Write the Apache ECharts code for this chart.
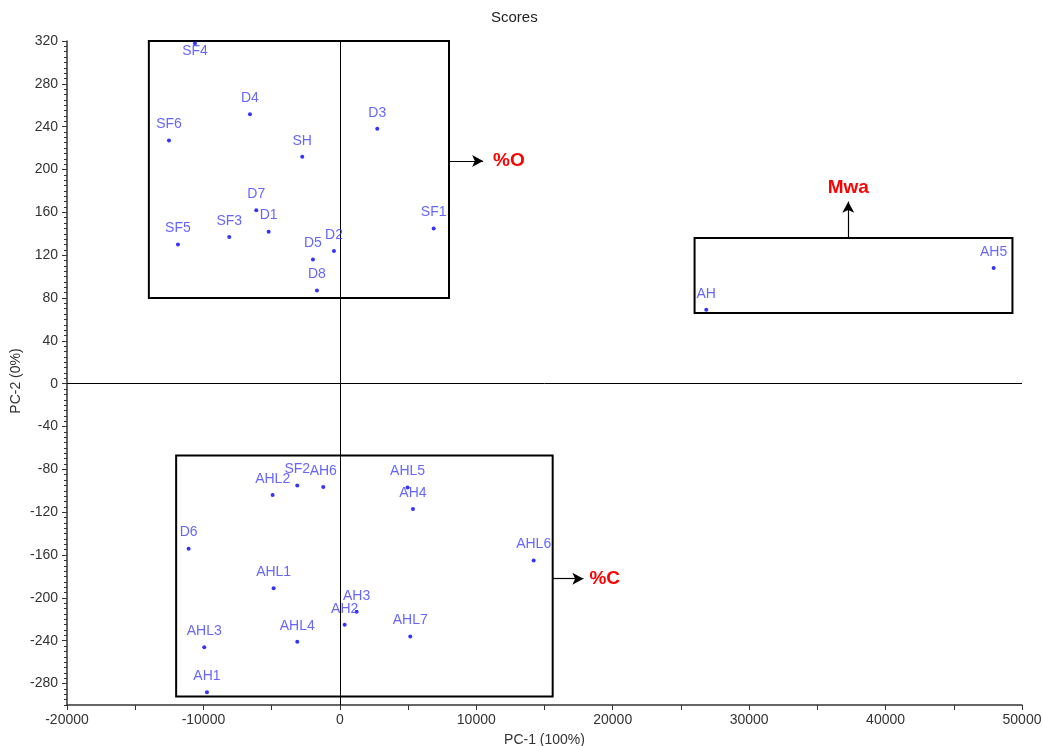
<!DOCTYPE html>
<html>
<head>
<meta charset="utf-8">
<script src="https://cdn.jsdelivr.net/npm/echarts@6/dist/echarts.min.js"></script>
<style>html,body{margin:0;padding:0;background:#fff}#c{width:1043px;height:746px}</style>
</head>
<body>
<div id="c"></div>
<script>
// ---- data ----
const names = ['SF4','D4','SF6','SH','D3','D7','D1','SF3','SF5','D2','D5','D8','SF1',
  'AHL2','SF2','AH6','AHL5','AH4','D6','AHL6','AHL1','AH3','AH2','AHL7','AHL4','AHL3','AH1',
  'AH5','AH'];
const pc1 = [-10620,-6590,-12525,-2756,2741,-6127,-5219,-8107,-11867,-432,-1972,-1679,6875,
  -4926,-3122,-1217,4966,5358,-11083,14205,-4853,1231,352,5160,-3122,-9939,-9741,
  47922,26856];
const pc2 = [318,251.5,227,212,238,162,142,137,130,124,116,87,145,
  -104,-95,-96.5,-97,-117,-154,-165,-191,-213,-225,-236,-241,-246,-288,
  108,69];

const xTicks = [-20000,-10000,0,10000,20000,30000,40000,50000];
const yTicks = [-280,-240,-200,-160,-120,-80,-40,0,40,80,120,160,200,240,280,320];

// annotation boxes [x1, y1, x2, y2] in data units
const boxO = [-14000, 80, 8000, 320];
const boxC = [-12000, -292, 15600, -67];
const boxM = [26000, 66, 49300, 136];
// arrows [x1, y1, x2, y2] and texts
const arrowO = [8000, 208, 10500, 208];
const arrowC = [15600, -182, 17850, -182];
const arrowM = [37265, 136, 37265, 170];
const arrowTexts = ['%O', '%C', 'Mwa'];

// ---- build ----
const yMinor = [];
for (let v = -300; v <= 320; v += 5) yMinor.push(v);

const pts = names.map((n, i) => {
  const item = { name: n, value: [pc1[i], pc2[i]] };
  if (pc2[i] > 305) item.label = { position: 'bottom', distance: -1 };
  return item;
});

const box = b => [{ coord: [b[0], b[1]] }, { coord: [b[2], b[3]] }];
const arr = (a, t, dist) => [
  { coord: [a[0], a[1]] },
  { coord: [a[2], a[3]], label: { formatter: t, distance: dist } }
];

const font = 'Arial, "Liberation Sans", sans-serif';
const axisCol = '#333';

const option = {
  animation: false,
  textStyle: { fontFamily: font },
  title: {
    text: 'Scores', left: 491, top: 10, padding: 0,
    textStyle: { fontSize: 15, fontWeight: 'normal', color: '#222', fontFamily: font }
  },
  grid: { left: 67, right: 21, top: 41, bottom: 41, containLabel: false, outerBoundsMode: 'none' },
  xAxis: {
    type: 'value', min: -20000, max: 50000, interval: 10000,
    name: 'PC-1 (100%)', nameLocation: 'middle', nameGap: 28,
    nameTextStyle: { fontSize: 14, color: '#333' },
    axisLine: { show: true, onZero: false, lineStyle: { color: axisCol, width: 1.5 } },
    axisTick: { show: true, length: 5, lineStyle: { color: axisCol, width: 1 } },
    minorTick: { show: true, splitNumber: 2, length: 5, lineStyle: { color: axisCol, width: 1 } },
    axisLabel: { fontSize: 14, color: '#333', margin: 8, formatter: v => String(v) },
    splitLine: { show: false }
  },
  yAxis: [{
    type: 'value', min: -300, max: 320,
    name: 'PC-2 (0%)', nameLocation: 'middle', nameGap: 44, nameMoveOverlap: false,
    nameTextStyle: { fontSize: 14, color: '#333', padding: [0, 16, 0, 0] },
    axisLine: { show: true, onZero: false, lineStyle: { color: axisCol, width: 1.5 } },
    axisTick: { show: true, length: 5, customValues: yTicks, lineStyle: { color: axisCol, width: 1 } },
    axisLabel: { fontSize: 14, color: '#333', margin: 9, customValues: yTicks, formatter: v => String(v) },
    splitLine: { show: false }
  }, {
    type: 'value', min: -300, max: 320, position: 'left',
    axisLine: { show: false, onZero: false },
    axisTick: { show: true, length: 3, customValues: yMinor, lineStyle: { color: axisCol, width: 1 } },
    axisLabel: { show: false },
    splitLine: { show: false }
  }],
  series: [{
    type: 'scatter',
    data: pts,
    symbolSize: 4,
    itemStyle: { color: '#0000ff' },
    label: {
      show: true, position: 'top', distance: 7,
      formatter: p => p.name,
      color: '#4040ff', fontSize: 14, fontFamily: font
    },
    markLine: {
      silent: true, symbol: 'none', animation: false,
      lineStyle: { color: '#000', width: 1, type: 'solid' },
      label: { show: false },
      data: [[{ coord: [0, -300] }, { coord: [0, 320] }], [{ coord: [-20000, 0] }, { coord: [50000, 0] }]]
    },
    markArea: {
      silent: true,
      itemStyle: { color: 'rgba(0,0,0,0)', borderColor: '#000', borderWidth: 2 },
      label: { show: false },
      data: [box(boxO), box(boxC), box(boxM)]
    },
    z: 5
  }, {
    type: 'scatter', data: [],
    markLine: {
      silent: true, animation: false,
      symbol: ['none', 'arrow'], symbolSize: [9, 11],
      lineStyle: { color: '#000', width: 1.2, type: 'solid' },
      label: {
        show: true, position: 'end', color: '#ff0000',
        fontSize: 19, fontWeight: 'bold', fontFamily: font
      },
      data: [arr(arrowO, arrowTexts[0], 10), arr(arrowC, arrowTexts[1], 6), arr(arrowM, arrowTexts[2], 4)]
    }
  }]
};

const chart = echarts.init(document.getElementById('c'), null, { renderer: 'canvas' });
chart.setOption(option);
</script>
</body>
</html>
